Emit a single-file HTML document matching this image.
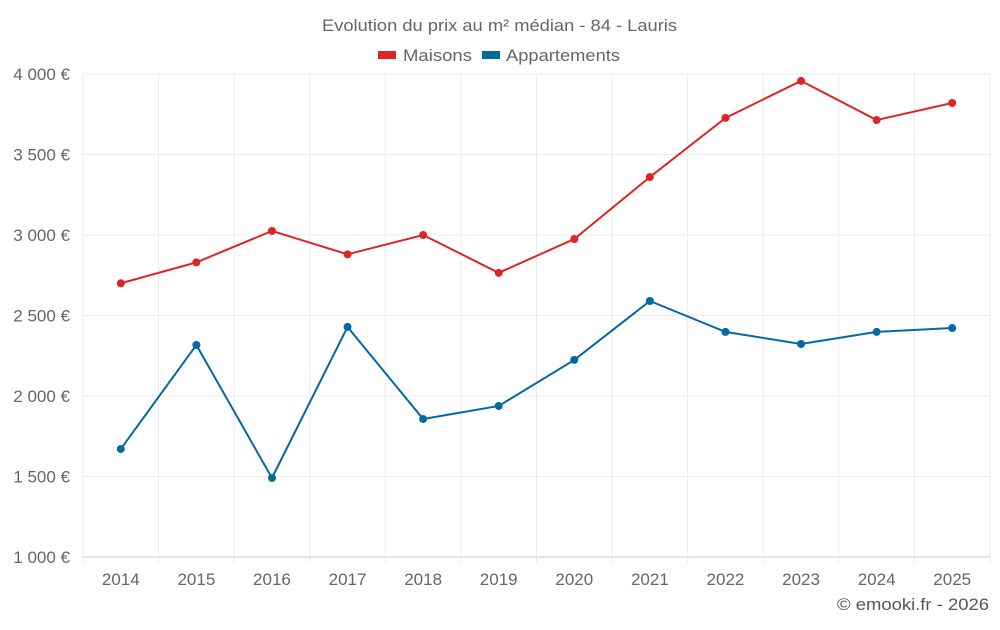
<!DOCTYPE html>
<html><head><meta charset="utf-8">
<style>
body{margin:0;background:#fff;font-family:"Liberation Sans",sans-serif;}
svg text{font-family:"Liberation Sans",sans-serif;}
</style></head>
<body>
<svg id="chart" width="1000" height="625" xmlns="http://www.w3.org/2000/svg">
<text x="322" y="31" font-size="17" fill="#666" textLength="355" lengthAdjust="spacingAndGlyphs">Evolution du prix au m² médian - 84 - Lauris</text>
<g>
<rect x="378" y="51" width="18" height="8" fill="#dc2626"/>
<text x="403" y="61" font-size="17" fill="#666" textLength="69" lengthAdjust="spacingAndGlyphs">Maisons</text>
<rect x="482" y="51" width="18" height="8" fill="#0369a1"/>
<text x="506" y="61" font-size="17" fill="#666" textLength="114" lengthAdjust="spacingAndGlyphs">Appartements</text>
</g>
<g id="grid"></g>
<g id="axes"></g>
<g id="series"></g>
<text x="837" y="610" font-size="17" fill="#555" textLength="152" lengthAdjust="spacingAndGlyphs">© emooki.fr - 2026</text>
</svg>
<script>
const years = [2014,2015,2016,2017,2018,2019,2020,2021,2022,2023,2024,2025];
const maisons = [2700,2830,3025,2880,3000,2765,2975,3360,3727,3957,3714,3820];
const appartements = [1671,2317,1491,2429,1857,1938,2224,2590,2398,2323,2398,2422];
const yTicks = [1000,1500,2000,2500,3000,3500,4000];
const yTickLabels = ["1 000 €","1 500 €","2 000 €","2 500 €","3 000 €","3 500 €","4 000 €"];

const NS="http://www.w3.org/2000/svg";
const L=83,R=990,T=74,B=557;
const yMin=1000,yMax=4000;
const step=(R-L)/years.length;
function x(i){return L+step*(i+0.5);}
function y(v){return B-(v-yMin)/(yMax-yMin)*(B-T);}
function mk(tag,attrs,parent){const e=document.createElementNS(NS,tag);for(const k in attrs)e.setAttribute(k,attrs[k]);parent.appendChild(e);return e;}
const grid=document.getElementById('grid'),axes=document.getElementById('axes'),series=document.getElementById('series');
yTicks.forEach((t,i)=>{
  const ln=mk('line',{x1:L,x2:R,y1:y(t),y2:y(t),stroke:i===0?'#ccc':'#ebebeb','stroke-width':1},grid);
  
  
  const tx=mk('text',{x:70,y:y(t)+6,'text-anchor':'end','font-size':17,fill:'#666'},axes);
  tx.textContent=yTickLabels[i];
  
  
});
for(let i=0;i<=years.length;i++){
  const gx=L+step*i;
  const ln=mk('line',{x1:gx,x2:gx,y1:T,y2:B+6,stroke:'#ebebeb','stroke-width':1},grid);
  
  
}
years.forEach((yr,i)=>{
  const tx=mk('text',{x:x(i),y:585,'text-anchor':'middle','font-size':17,fill:'#666'},axes);
  tx.textContent=yr;
  
  
});
function draw(vals,color,name){
  const p=mk('polyline',{points:vals.map((v,i)=>x(i)+','+y(v)).join(' '),fill:'none',stroke:color,'stroke-width':2},series);
  
  
  vals.forEach((v,i)=>{
    const c=mk('circle',{cx:x(i),cy:y(v),r:4,fill:color},series);
    
    
  });
}
draw(maisons,'#dc2626','maisons');
draw(appartements,'#0369a1','appartements');
</script>
</body></html>
